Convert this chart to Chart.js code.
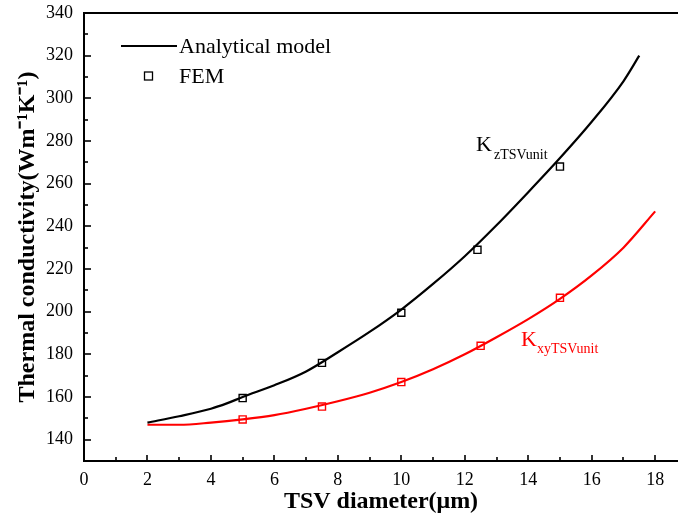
<!DOCTYPE html>
<html><head><meta charset="utf-8">
<script src="https://cdn.jsdelivr.net/npm/chart.js@4"></script>
<style>html,body{margin:0;padding:0;background:#fff}#wrap{width:678px;height:517px}</style>
</head><body><div id="wrap"><canvas id="c" width="678" height="517"></canvas></div>
<script>
// Analytical model curves
const zX = [2, 3, 4, 4.5, 5, 6, 7, 8, 9, 10, 11, 12, 13, 14, 15, 16, 17, 17.5];
const zY = [148, 151, 154.5, 157, 160, 165.5, 172, 181, 190.5, 201, 213, 226, 240.5, 256, 272, 289, 308, 320];
const xyX = [2, 3, 4, 5, 6, 7, 8, 9, 10, 11, 12, 13, 14, 15, 16, 17, 18];
const xyY = [147, 147, 148, 149.5, 151.5, 154.5, 158, 162, 167, 173, 180, 188, 196.5, 206, 217, 230, 247];
// FEM points
const femX_z = [5, 7.5, 10, 12.4, 15];
const femY_z = [159.5, 176, 199.5, 229, 268];
const femX_xy = [5, 7.5, 10, 12.5, 15];
const femY_xy = [149.5, 155.5, 167, 184, 206.5];
// Axis ticks
const X_MAX = 18.72;
const xTicks = [0,1,2,3,4,5,6,7,8,9,10,11,12,13,14,15,16,17,18];
const yTicks = [130,140,150,160,170,180,190,200,210,220,230,240,250,260,270,280,290,300,310,320,330,340];

const pts = (xs, ys) => xs.map((x, i) => ({x, y: ys[i]}));
const FONT = "'Liberation Serif', 'Times New Roman', serif";

const decor = {
  id: 'decor',
  afterDraw(chart) {
    const {ctx, chartArea: a, scales: {x, y}} = chart;
    ctx.save();
    ctx.strokeStyle = '#000';
    ctx.lineWidth = 2;
    // top border
    ctx.beginPath(); ctx.moveTo(a.left - 1, a.top); ctx.lineTo(chart.width, a.top); ctx.stroke();
    // inward ticks
    ctx.lineWidth = 1.6;
    xTicks.forEach(v => {
      if (v === 0) return;
      const px = Math.round(x.getPixelForValue(v));
      const len = v % 2 === 0 ? 6 : 4;
      ctx.beginPath(); ctx.moveTo(px, a.bottom); ctx.lineTo(px, a.bottom - len); ctx.stroke();
    });
    yTicks.forEach(v => {
      if (v === 130) return;
      const py = Math.round(y.getPixelForValue(v));
      const len = v % 20 === 0 ? 7 : 4;
      ctx.beginPath(); ctx.moveTo(a.left, py); ctx.lineTo(a.left + len, py); ctx.stroke();
    });
    // legend
    ctx.lineWidth = 2;
    ctx.beginPath(); ctx.moveTo(121, 46); ctx.lineTo(177, 46); ctx.stroke();
    ctx.fillStyle = '#000';
    ctx.font = '22px ' + FONT;
    ctx.textBaseline = 'middle';
    ctx.textAlign = 'left';
    ctx.fillText('Analytical model', 179, 47);
    ctx.lineWidth = 1.3;
    ctx.fillStyle = '#fff';
    ctx.fillRect(144.5, 72, 8, 8);
    ctx.strokeRect(144.5, 72, 8, 8);
    ctx.fillStyle = '#000';
    ctx.fillText('FEM', 179, 77);
    // annotations
    ctx.textBaseline = 'alphabetic';
    ctx.font = '22px ' + FONT;
    ctx.fillText('K', 476, 151);
    ctx.font = '14px ' + FONT;
    ctx.fillText('zTSVunit', 494, 159);
    ctx.fillStyle = '#ff0000';
    ctx.font = '22px ' + FONT;
    ctx.fillText('K', 521, 346);
    ctx.font = '14px ' + FONT;
    ctx.fillText('xyTSVunit', 537, 353);
    ctx.restore();
  }
};

new Chart(document.getElementById('c'), {
  type: 'scatter',
  data: {
    datasets: [
      {label: 'Analytical model', data: pts(zX, zY), showLine: true, borderColor: '#000', borderWidth: 2.2,
       pointRadius: 0, tension: 0.4, cubicInterpolationMode: 'monotone'},
      {label: 'xy', data: pts(xyX, xyY), showLine: true, borderColor: '#ff0000', borderWidth: 2.2,
       pointRadius: 0, tension: 0.4, cubicInterpolationMode: 'monotone'},
      {label: 'FEM', data: pts(femX_z, femY_z), showLine: false, pointStyle: 'rect', pointRadius: 5,
       borderColor: '#000', backgroundColor: '#fff', pointBorderWidth: 1.4},
      {label: 'FEM xy', data: pts(femX_xy, femY_xy), showLine: false, pointStyle: 'rect', pointRadius: 5,
       borderColor: '#ff0000', backgroundColor: '#fff', pointBorderWidth: 1.4}
    ]
  },
  options: {
    responsive: false,
    animation: false,
    layout: {autoPadding: false, padding: {top: 13, right: 0, left: 0, bottom: 0}},
    plugins: {legend: {display: false}, tooltip: {enabled: false}},
    scales: {
      x: {
        type: 'linear', min: 0, max: X_MAX,
        afterBuildTicks: s => { s.ticks = xTicks.map(v => ({value: v})); },
        afterFit: s => { s.height = 56; s.paddingLeft = 0; s.paddingRight = 0; },
        grid: {display: false, drawTicks: false},
        border: {display: true, color: '#000', width: 2},
        ticks: {color: '#000', font: {family: FONT, size: 18}, padding: 8, maxRotation: 0, autoSkip: false,
                callback: v => (v % 2 === 0 ? String(v) : '')},
        title: {display: true, text: 'TSV diameter(μm)', color: '#000',
                font: {family: FONT, size: 24, weight: 'bold'}, padding: {top: 2, bottom: 1}}
      },
      y: {
        type: 'linear', min: 130, max: 340,
        afterBuildTicks: s => { s.ticks = yTicks.map(v => ({value: v})); },
        afterFit: s => { s.width = 84; s.paddingTop = 0; s.paddingBottom = 0; },
        grid: {display: false, drawTicks: false},
        border: {display: true, color: '#000', width: 2},
        ticks: {color: '#000', font: {family: FONT, size: 18}, padding: 11, autoSkip: false,
                callback: v => (v % 20 === 0 ? String(v) : '')},
        title: {display: true, text: 'Thermal conductivity(Wm⁻¹K⁻¹)', color: '#000',
                font: {family: FONT, size: 24, weight: 'bold'}, padding: {top: 13, bottom: 13}}
      }
    }
  },
  plugins: [decor]
});
</script></body></html>
